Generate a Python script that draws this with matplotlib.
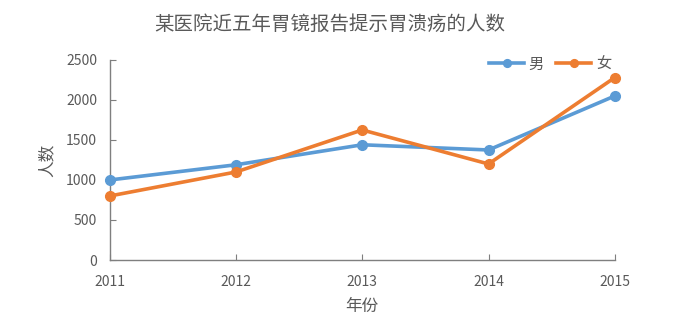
import matplotlib
matplotlib.use("Agg")
import matplotlib.pyplot as plt

plt.rcParams['font.family'] = ['Noto Sans CJK SC', 'DejaVu Sans']

years = [2011, 2012, 2013, 2014, 2015]
male = [1000, 1190, 1440, 1375, 2050]
female = [800, 1100, 1625, 1200, 2280]
yticks = [0, 500, 1000, 1500, 2000, 2500]

fig = plt.figure(figsize=(6.9, 3.24), dpi=100)
ax = fig.add_axes([0.159, 0.1975, 0.732, 0.6175])

gray = '#595959'
ax.plot(years, male, color='#5B9BD5', lw=2.6, marker='o', ms=7, label='男', zorder=3, clip_on=False)
ax.plot(years, female, color='#ED7D31', lw=2.6, marker='o', ms=7, label='女', zorder=3, clip_on=False)

ax.set_xlim(2011, 2015)
ax.set_ylim(0, 2500)
ax.set_xticks(years)
ax.set_yticks(yticks)
ax.tick_params(axis='both', colors='#7f7f7f', labelcolor=gray, labelsize=10, length=4, direction='in')
ax.tick_params(axis='x', pad=11)
ax.tick_params(axis='y', pad=9)
for s in ['top', 'right']:
    ax.spines[s].set_visible(False)
for s in ['left', 'bottom']:
    ax.spines[s].set_color('#7f7f7f')
    ax.spines[s].set_linewidth(1.0)

ax.set_ylabel('人数', color=gray, fontsize=12, labelpad=8)
ax.set_xlabel('年份', color=gray, fontsize=12, labelpad=6)
fig.text(0.478, 0.925, '某医院近五年胃镜报告提示胃溃疡的人数', ha='center', va='center',
         fontsize=14, color=gray)

leg = ax.legend(loc='upper right', bbox_to_anchor=(1.02, 1.09), ncol=2, frameon=False,
                fontsize=11, handlelength=2.3, columnspacing=0.8, handletextpad=0.3,
                markerscale=0.8)
for t in leg.get_texts():
    t.set_color(gray)

fig.savefig('out.png', dpi=100)
